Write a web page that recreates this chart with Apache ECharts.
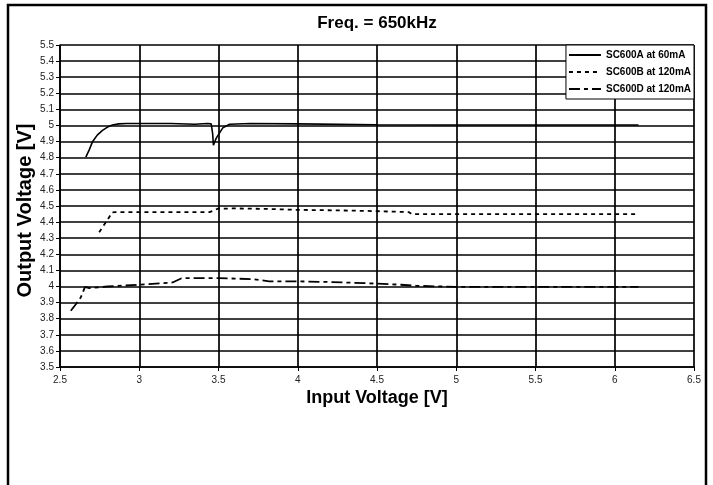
<!DOCTYPE html>
<html>
<head>
<meta charset="utf-8">
<script src="https://cdn.jsdelivr.net/npm/echarts@6/dist/echarts.min.js"></script>
<style>
html,body{margin:0;padding:0;background:#fff;}
#chart{width:713px;height:485px;}
</style>
</head>
<body>
<div id="chart"></div>
<script>
// ---- data ----
const titleText = 'Freq. = 650kHz';
const xName = 'Input Voltage [V]';
const yName = 'Output Voltage [V]';
const seriesNames = ['SC600A at 60mA', 'SC600B at 120mA', 'SC600D at 120mA'];

const aX = [2.663, 2.685, 2.704, 2.735, 2.768, 2.80, 2.831, 2.87, 2.92, 3.0, 3.2, 3.35, 3.43, 3.454, 3.463, 3.468, 3.485, 3.527, 3.57, 3.7, 4.0, 4.5, 5.0, 5.5, 6.15];
const aY = [4.804, 4.85, 4.897, 4.94, 4.97, 4.99, 5.003, 5.01, 5.012, 5.012, 5.012, 5.008, 5.012, 5.01, 4.95, 4.877, 4.92, 4.985, 5.008, 5.012, 5.01, 5.005, 5.003, 5.003, 5.003];

const bX = [2.747, 2.79, 2.831, 2.85, 3.0, 3.2, 3.443, 3.45, 3.464, 3.494, 3.6, 3.8, 4.0, 4.3, 4.5, 4.7, 4.72, 5.0, 5.5, 6.15];
const bY = [4.337, 4.40, 4.461, 4.462, 4.462, 4.462, 4.462, 4.451, 4.47, 4.483, 4.485, 4.482, 4.476, 4.472, 4.468, 4.462, 4.449, 4.449, 4.45, 4.45];

const dX = [2.568, 2.60, 2.631, 2.658, 2.684, 2.8, 3.0, 3.21, 3.264, 3.3, 3.5, 3.715, 3.82, 4.0, 4.2, 4.5, 4.65, 4.75, 5.0, 5.5, 6.15];
const dY = [3.849, 3.89, 3.932, 3.998, 3.99, 4.0, 4.011, 4.025, 4.05, 4.052, 4.052, 4.046, 4.032, 4.032, 4.028, 4.018, 4.011, 4.004, 3.998, 3.998, 3.998];

const xMin = 2.5, xMax = 6.5, xStep = 0.5;
const yMin = 3.5, yMax = 5.5, yStep = 0.1;

function pairs(xs, ys) { return xs.map((x, i) => [x, ys[i]]); }

const FONT = 'Liberation Sans, Arial, sans-serif';
const chart = echarts.init(document.getElementById('chart'), null, {renderer: 'canvas'});

const option = {
  backgroundColor: '#fff',
  animation: false,
  textStyle: {fontFamily: FONT},
  graphic: [
    {type: 'rect', shape: {x: 8, y: 5, width: 698, height: 490}, style: {fill: 'none', stroke: '#000', lineWidth: 2.5}, z: 100},
    {type: 'text', x: 377, y: 23, style: {text: titleText, font: 'bold 17px ' + FONT, fill: '#000', textAlign: 'center', textVerticalAlign: 'middle'}, z: 100}
  ],
  grid: {left: 60, right: 19, top: 45, bottom: 118, containLabel: false},
  legend: {
    right: 19, top: 45, orient: 'vertical',
    backgroundColor: '#fff', borderColor: '#000', borderWidth: 1,
    padding: [5, 3, 5, 2], itemGap: 7, itemWidth: 32, itemHeight: 10,
    itemStyle: {opacity: 0},
    textStyle: {fontSize: 10, fontWeight: 'bold', color: '#000', fontFamily: FONT},
    data: seriesNames
  },
  xAxis: {
    type: 'value', min: xMin, max: xMax, interval: xStep,
    name: xName, nameLocation: 'middle', nameGap: 22, nameMoveOverlap: false,
    nameTextStyle: {fontSize: 18, fontWeight: 'bold', color: '#000', fontFamily: FONT},
    axisLine: {show: true, lineStyle: {color: '#000', width: 1.5}},
    axisTick: {show: true, length: 4, lineStyle: {color: '#000'}},
    axisLabel: {fontSize: 10, color: '#222', margin: 8, fontFamily: FONT},
    splitLine: {show: true, lineStyle: {color: '#000', width: 1.7}}
  },
  yAxis: {
    type: 'value', min: yMin, max: yMax, interval: yStep,
    name: yName, nameLocation: 'middle', nameGap: 25, nameRotate: 90, nameMoveOverlap: false,
    nameTextStyle: {fontSize: 20, fontWeight: 'bold', color: '#000', fontFamily: FONT, padding: [0, 9, 0, 0]},
    axisLine: {show: true, lineStyle: {color: '#000', width: 1.5}},
    axisTick: {show: true, length: 4, lineStyle: {color: '#000'}},
    axisLabel: {fontSize: 10, color: '#222', margin: 6, fontFamily: FONT},
    splitLine: {show: true, lineStyle: {color: '#000', width: 1.7}}
  },
  series: [
    {name: seriesNames[0], type: 'line', data: pairs(aX, aY), symbol: 'none', smooth: false,
     lineStyle: {color: '#000', width: 1.6, type: 'solid'}, itemStyle: {color: '#000'}},
    {name: seriesNames[1], type: 'line', data: pairs(bX, bY), symbol: 'none',
     lineStyle: {color: '#000', width: 1.8, type: [4, 4]}, itemStyle: {color: '#000'}},
    {name: seriesNames[2], type: 'line', data: pairs(dX, dY), symbol: 'none',
     lineStyle: {color: '#000', width: 1.8, type: [11, 4, 4, 4]}, itemStyle: {color: '#000'}}
  ]
};
chart.setOption(option);
</script>
</body>
</html>
